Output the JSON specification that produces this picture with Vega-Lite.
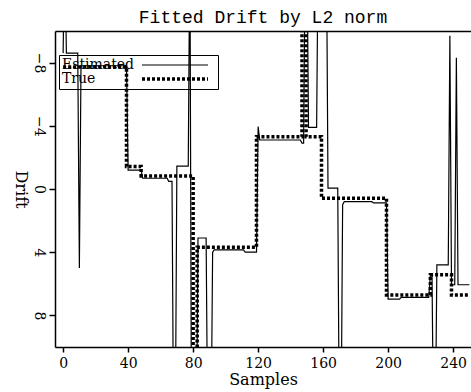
{
  "$schema": "https://vega.github.io/schema/vega-lite/v6.json",
  "width": 416,
  "height": 316,
  "autosize": {"type": "none"},
  "padding": {"left": 55, "top": 31, "right": 0, "bottom": 45},
  "background": "white",
  "title": {"text": "Fitted Drift by L2 norm", "font": "Liberation Mono", "fontSize": 18, "fontWeight": "normal", "color": "black", "anchor": "middle", "frame": "group", "offset": -10, "baseline": "alphabetic"},
  "config": {
    "view": {"stroke": null},
    "axis": {"domainColor": "black", "domainWidth": 1.5, "tickColor": "black", "tickWidth": 1.5, "labelFont": "DejaVu Serif", "labelFontSize": 14, "labelColor": "black", "titleFont": "DejaVu Serif", "titleFontSize": 16, "titleFontWeight": "normal", "titleColor": "black", "grid": false}
  },
  "datasets": {
    "est": [
      {"s": 0, "d": -8.6}, {"s": 1, "d": -16}, {"s": 2, "d": -8.6}, {"s": 9, "d": -8.6}, {"s": 10, "d": 5.0}, {"s": 11, "d": -7.8},
      {"s": 39, "d": -7.8}, {"s": 40, "d": -1.2}, {"s": 48, "d": -1.2}, {"s": 49, "d": -0.68}, {"s": 64, "d": -0.68}, {"s": 65, "d": -0.48},
      {"s": 67, "d": -0.48}, {"s": 68, "d": 16}, {"s": 69, "d": 16}, {"s": 70, "d": -1.45}, {"s": 77, "d": -1.45}, {"s": 78, "d": -16},
      {"s": 79, "d": 16}, {"s": 82, "d": 16}, {"s": 83, "d": 3.1}, {"s": 88, "d": 3.1}, {"s": 89, "d": 16}, {"s": 91, "d": 16},
      {"s": 92, "d": 4.0}, {"s": 93, "d": 3.85}, {"s": 111, "d": 3.85}, {"s": 112, "d": 4.0}, {"s": 119, "d": 4.0}, {"s": 120, "d": -3.95},
      {"s": 121, "d": -3.1}, {"s": 146, "d": -3.1}, {"s": 147, "d": -2.9}, {"s": 148, "d": -2.9}, {"s": 149, "d": -16}, {"s": 150, "d": -16},
      {"s": 151, "d": -3.9}, {"s": 156, "d": -3.9}, {"s": 157, "d": -16}, {"s": 162, "d": -16}, {"s": 163, "d": -0.05}, {"s": 169, "d": -0.05},
      {"s": 170, "d": 16}, {"s": 171, "d": 16}, {"s": 172, "d": 1.0}, {"s": 173, "d": 0.8}, {"s": 190, "d": 0.8}, {"s": 191, "d": 0.88},
      {"s": 199, "d": 0.88}, {"s": 200, "d": 6.97}, {"s": 207, "d": 6.97}, {"s": 208, "d": 6.86}, {"s": 225, "d": 6.86}, {"s": 226, "d": 5.4},
      {"s": 227, "d": 5.4}, {"s": 228, "d": 16}, {"s": 229, "d": 16}, {"s": 230, "d": 4.8}, {"s": 237, "d": 4.8}, {"s": 238, "d": -9.7},
      {"s": 239, "d": 6.06}, {"s": 241, "d": 6.06}, {"s": 242, "d": -8.3}, {"s": 243, "d": 6.06}, {"s": 250, "d": 6.06}
    ],
    "tru": [
      {"s": 0, "d": -7.72}, {"s": 39, "d": -1.42}, {"s": 48, "d": -0.82}, {"s": 80, "d": 14}, {"s": 82.5, "d": 3.68},
      {"s": 119, "d": -3.31}, {"s": 147, "d": -14}, {"s": 149.5, "d": -3.31}, {"s": 159, "d": 0.59}, {"s": 199, "d": 6.71},
      {"s": 226, "d": 5.43}, {"s": 239, "d": 6.71}, {"s": 250, "d": 6.71}
    ]
  },
  "layer": [
    {
      "data": {"name": "est"},
      "transform": [{"calculate": "'Estimated'", "as": "series"}],
      "mark": {"type": "line", "clip": true, "interpolate": "linear"},
      "encoding": {
        "x": {"field": "s", "type": "quantitative", "scale": {"domain": [-5, 251], "nice": false, "zero": false},
              "axis": {"values": [0, 40, 80, 120, 160, 200, 240], "title": "Samples", "labelPadding": 4, "titlePadding": 1, "tickSize": 5}},
        "y": {"field": "d", "type": "quantitative", "scale": {"domain": [-10, 10], "reverse": true, "nice": false, "zero": false},
              "axis": {"values": [-8, -4, 0, 4, 8], "title": "Drift", "labelAngle": 90, "labelAlign": "center", "labelBaseline": "top", "labelPadding": 4, "tickSize": 6, "titleAngle": 90, "titleX": -35, "titleY": 158, "titleAlign": "center", "titleBaseline": "middle"}},
        "color": {"field": "series", "type": "nominal", "scale": {"domain": ["Estimated", "True"], "range": ["black", "black"]},
                  "legend": {"orient": "none", "legendX": 4, "legendY": 24, "title": null, "symbolType": "M-11,0H11", "symbolSize": 36, "symbolOffset": 106, "labelOffset": -120, "labelFont": "DejaVu Serif", "labelFontSize": 14, "labelColor": "black", "strokeColor": "black", "padding": 3, "rowPadding": 0, "labelLimit": 200, "labelAlign": "left", "labelBaseline": "middle"}},
        "strokeDash": {"field": "series", "type": "nominal", "scale": {"domain": ["Estimated", "True"], "range": [[1, 0], [3, 2]]}},
        "strokeWidth": {"field": "series", "type": "nominal", "scale": {"domain": ["Estimated", "True"], "range": [1.2, 3.5]}}
      }
    },
    {
      "data": {"name": "tru"},
      "transform": [{"calculate": "'True'", "as": "series"}],
      "mark": {"type": "line", "clip": true, "interpolate": "step-after"},
      "encoding": {
        "x": {"field": "s", "type": "quantitative", "scale": {"domain": [-5, 251], "nice": false, "zero": false},
              "axis": {"orient": "top", "labels": false, "ticks": false, "title": null, "domain": true}},
        "y": {"field": "d", "type": "quantitative", "scale": {"domain": [-10, 10], "reverse": true, "nice": false, "zero": false},
              "axis": {"values": [-8, -4, 0, 4, 8], "title": "Drift", "labelAngle": 90, "labelAlign": "center", "labelBaseline": "top", "labelPadding": 4, "tickSize": 6, "titleAngle": 90, "titleX": -35, "titleY": 158, "titleAlign": "center", "titleBaseline": "middle"}},
        "color": {"field": "series", "type": "nominal", "scale": {"domain": ["Estimated", "True"], "range": ["black", "black"]},
                  "legend": {"orient": "none", "legendX": 4, "legendY": 24, "title": null, "symbolType": "M-11,0H11", "symbolSize": 36, "symbolOffset": 106, "labelOffset": -120, "labelFont": "DejaVu Serif", "labelFontSize": 14, "labelColor": "black", "strokeColor": "black", "padding": 3, "rowPadding": 0, "labelLimit": 200, "labelAlign": "left", "labelBaseline": "middle"}},
        "strokeDash": {"field": "series", "type": "nominal", "scale": {"domain": ["Estimated", "True"], "range": [[1, 0], [3, 2]]}},
        "strokeWidth": {"field": "series", "type": "nominal", "scale": {"domain": ["Estimated", "True"], "range": [1.2, 3.5]}}
      }
    }
  ],
  "resolve": {"axis": {"x": "independent"}}
}
